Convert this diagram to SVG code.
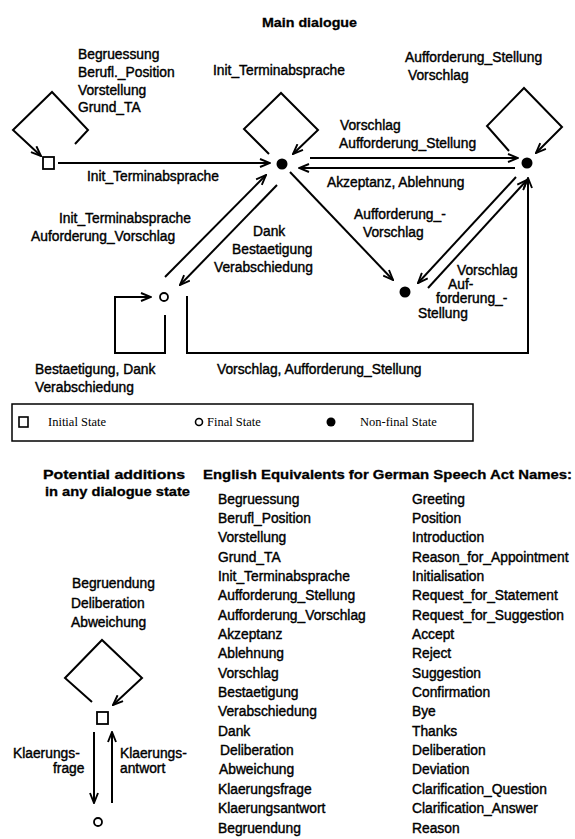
<svg xmlns="http://www.w3.org/2000/svg" width="575" height="839" viewBox="0 0 575 839">
<style>
text{font-family:"Liberation Sans",Arial,sans-serif;fill:#000}
.t{font-size:13.8px;stroke:#000;stroke-width:0.4}
.l{font-size:13.8px;stroke:#000;stroke-width:0.4}
.h{font-size:13px;font-weight:bold;stroke:#000;stroke-width:0.3}
.s{font-family:"Liberation Serif","Times New Roman",serif;font-size:12.5px}
.ca{fill:none;stroke:#000;stroke-width:2;marker-end:url(#ah)}
</style>
<defs>
<marker id="ah" viewBox="0 0 12 10" refX="11" refY="5" markerWidth="12" markerHeight="10" markerUnits="userSpaceOnUse" orient="auto">
<path d="M1,1 L11,5 L1,9" fill="none" stroke="#000" stroke-width="1.9"/>
</marker>
</defs>
<rect width="575" height="839" fill="#fff"/>

<text class="h" x="262" y="27" textLength="95" lengthAdjust="spacingAndGlyphs">Main dialogue</text>

<g id="connectors">
<path class="ca" d="M75,144 L88,130 L52,92 L13,130 L41,156"/>
<path class="ca" d="M58,163 L270,163"/>
<path class="ca" d="M269,154 L244,129 L281,93 L318,130 L293,154"/>
<path class="ca" d="M509,151 L487,126 L524,88 L562,127 L536,153"/>
<path class="ca" d="M310,158 L518,158"/>
<path class="ca" d="M515,168 L299,168"/>
<path class="ca" d="M290,172 L393,280"/>
<path class="ca" d="M516,177 L418,283"/>
<path class="ca" d="M428,288 L527,180"/>
<path class="ca" d="M187,296 L187,353 L528,353 L528,178"/>
<path class="ca" d="M165,315 L165,353 L115,353 L115,297 L151,297"/>
<path class="ca" d="M165,277 L266,175"/>
<path class="ca" d="M277,185 L180,285"/>
<path class="ca" d="M92,702 L65,678 L102,640 L142,678 L113,705"/>
<path class="ca" d="M94,732 L94,803"/>
<path class="ca" d="M112,803 L112,732"/>
</g>

<g id="A"><rect x="43" y="157" width="11" height="12" fill="#fff" stroke="#000" stroke-width="1.8"/></g>
<g id="B"><circle cx="282" cy="164" r="5.5" fill="#000"/></g>
<g id="C"><circle cx="527" cy="163" r="5.5" fill="#000"/></g>
<g id="D"><circle cx="405" cy="292" r="5.5" fill="#000"/></g>
<g id="E"><circle cx="164" cy="297" r="4" fill="#fff" stroke="#000" stroke-width="1.8"/></g>

<g id="labels">
<text class="l" x="78" y="59">Begruessung</text>
<text class="l" x="78" y="77">Berufl._Position</text>
<text class="l" x="78" y="94.5">Vorstellung</text>
<text class="l" x="78" y="112">Grund_TA</text>
<text class="l" x="213" y="75">Init_Terminabsprache</text>
<text class="l" x="87" y="181">Init_Terminabsprache</text>
<text class="l" x="405" y="62">Aufforderung_Stellung</text>
<text class="l" x="408" y="80">Vorschlag</text>
<text class="l" x="340" y="130">Vorschlag</text>
<text class="l" x="339" y="148">Aufforderung_Stellung</text>
<text class="l" x="327" y="187">Akzeptanz, Ablehnung</text>
<text class="l" x="59" y="223">Init_Terminabsprache</text>
<text class="l" x="31" y="241">Auforderung_Vorschlag</text>
<text class="l" x="253" y="236">Dank</text>
<text class="l" x="232" y="254">Bestaetigung</text>
<text class="l" x="214" y="272">Verabschiedung</text>
<text class="l" x="354" y="219">Aufforderung_-</text>
<text class="l" x="363" y="237">Vorschlag</text>
<text class="l" x="457" y="275">Vorschlag</text>
<text class="l" x="448" y="289">Auf-</text>
<text class="l" x="436" y="303">forderung_-</text>
<text class="l" x="418" y="318">Stellung</text>
<text class="l" x="35" y="374">Bestaetigung, Dank</text>
<text class="l" x="35" y="392">Verabschiedung</text>
<text class="l" x="217" y="374">Vorschlag,  Aufforderung_Stellung</text>
</g>

<g id="legend">
<rect x="12" y="404" width="461" height="37" fill="none" stroke="#000" stroke-width="1.5"/>
<rect x="19" y="417" width="9" height="10" fill="none" stroke="#000" stroke-width="1.6"/>
<text class="s" x="48" y="426">Initial State</text>
<circle cx="199" cy="422" r="3.5" fill="none" stroke="#000" stroke-width="1.6"/>
<text class="s" x="207" y="426">Final State</text>
<circle cx="331" cy="422" r="4.5" fill="#000"/>
<text class="s" x="360" y="426">Non-final State</text>
</g>

<text class="h" x="43" y="479" textLength="142" lengthAdjust="spacingAndGlyphs">Potential additions</text>
<text class="h" x="45" y="496" textLength="145" lengthAdjust="spacingAndGlyphs">in any dialogue state</text>
<text class="h" x="203" y="479" textLength="369" lengthAdjust="spacingAndGlyphs">English Equivalents for German Speech Act Names:</text>

<g id="additions">
<text class="l" x="72" y="588">Begruendung</text>
<text class="l" x="71" y="608">Deliberation</text>
<text class="l" x="71" y="627">Abweichung</text>
<rect x="97" y="712" width="11" height="12" fill="#fff" stroke="#000" stroke-width="1.8"/>
<circle cx="98" cy="822" r="4" fill="#fff" stroke="#000" stroke-width="1.8"/>
<text class="l" x="13" y="758">Klaerungs-</text>
<text class="l" x="53" y="773">frage</text>
<text class="l" x="120" y="758">Klaerungs-</text>
<text class="l" x="120" y="773">antwort</text>
</g>

<g id="german" class="t">
<text x="218" y="503.5">Begruessung</text>
<text x="218" y="522.9">Berufl_Position</text>
<text x="218" y="542.2">Vorstellung</text>
<text x="218" y="561.6">Grund_TA</text>
<text x="218" y="580.9">Init_Terminabsprache</text>
<text x="218" y="600.3">Aufforderung_Stellung</text>
<text x="218" y="619.6">Aufforderung_Vorschlag</text>
<text x="218" y="639">Akzeptanz</text>
<text x="218" y="658.3">Ablehnung</text>
<text x="218" y="677.7">Vorschlag</text>
<text x="218" y="697">Bestaetigung</text>
<text x="218" y="716.4">Verabschiedung</text>
<text x="218" y="735.7">Dank</text>
<text x="220" y="755.1">Deliberation</text>
<text x="219" y="774.4">Abweichung</text>
<text x="218" y="793.8">Klaerungsfrage</text>
<text x="218" y="813.1">Klaerungsantwort</text>
<text x="218" y="832.5">Begruendung</text>
</g>

<g id="english" class="t">
<text x="412" y="503.5">Greeting</text>
<text x="412" y="522.9">Position</text>
<text x="412" y="542.2">Introduction</text>
<text x="412" y="561.6">Reason_for_Appointment</text>
<text x="412" y="580.9">Initialisation</text>
<text x="412" y="600.3">Request_for_Statement</text>
<text x="412" y="619.6">Request_for_Suggestion</text>
<text x="412" y="639">Accept</text>
<text x="412" y="658.3">Reject</text>
<text x="412" y="677.7">Suggestion</text>
<text x="412" y="697">Confirmation</text>
<text x="412" y="716.4">Bye</text>
<text x="412" y="735.7">Thanks</text>
<text x="412" y="755.1">Deliberation</text>
<text x="412" y="774.4">Deviation</text>
<text x="412" y="793.8">Clarification_Question</text>
<text x="412" y="813.1">Clarification_Answer</text>
<text x="412" y="832.5">Reason</text>
</g>
</svg>
